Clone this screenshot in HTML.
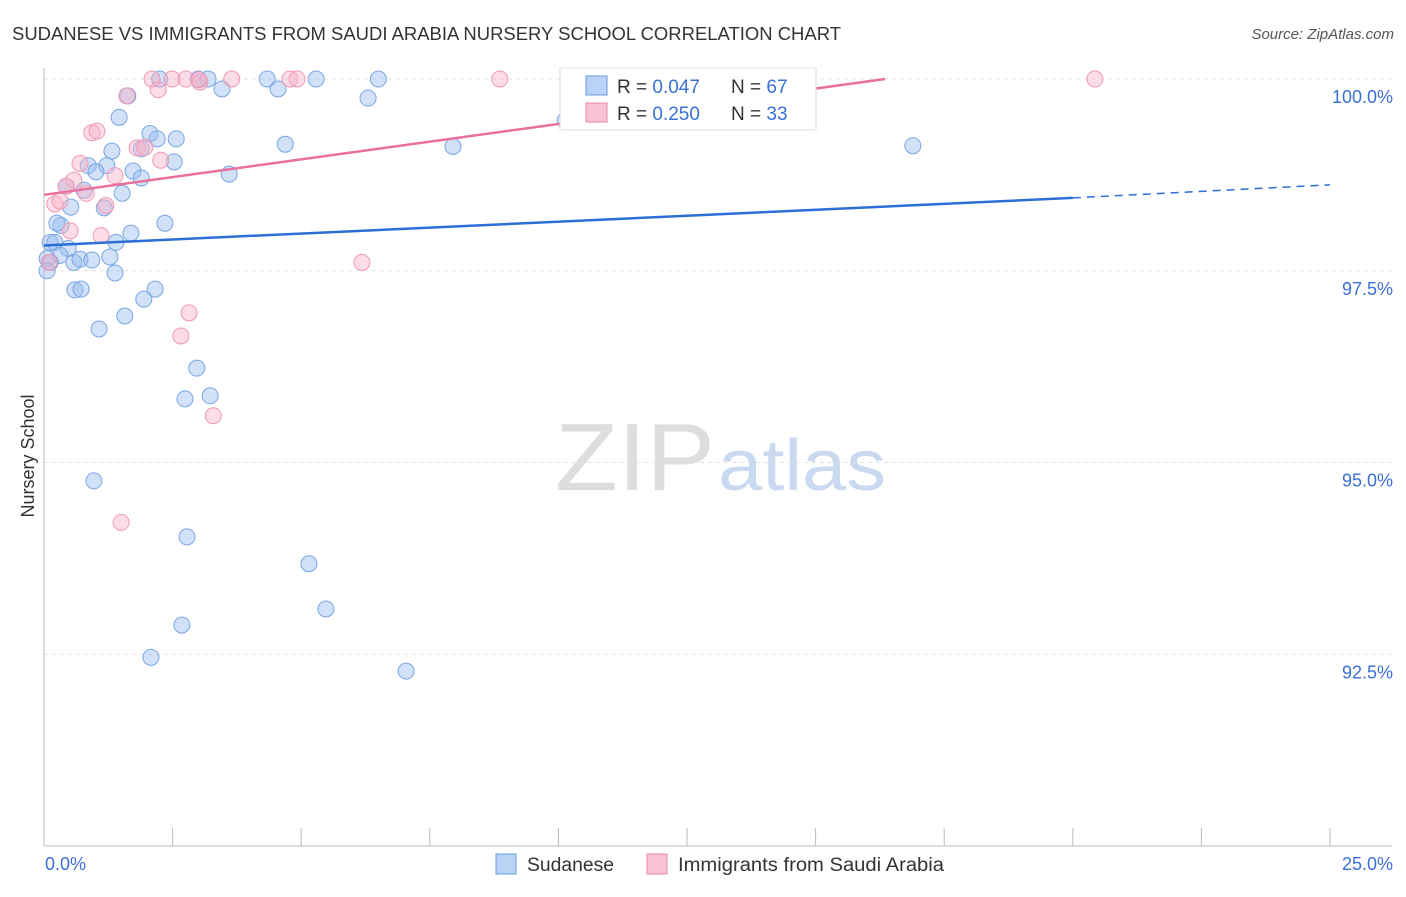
<!DOCTYPE html>
<html><head><meta charset="utf-8"><style>
body{margin:0;background:#fff;font-family:"Liberation Sans",sans-serif}
svg text{font-family:"Liberation Sans",sans-serif}
</style></head><body>
<svg id="c" width="1406" height="892" xmlns="http://www.w3.org/2000/svg">
<text x="12" y="40" font-size="18" fill="#333" textLength="829" lengthAdjust="spacingAndGlyphs">SUDANESE VS IMMIGRANTS FROM SAUDI ARABIA NURSERY SCHOOL CORRELATION CHART</text>
<text x="1394" y="39" font-size="15" fill="#555" font-style="italic" text-anchor="end">Source: ZipAtlas.com</text>
<text x="34" y="456" font-size="18" fill="#333" text-anchor="middle" transform="rotate(-90 34 456)">Nursery School</text>
<text x="555" y="490" font-size="96" fill="#ddd" font-family="Liberation Serif" textLength="160" lengthAdjust="spacingAndGlyphs">ZIP</text>
<text x="718" y="490" font-size="72" fill="#c9d9ef" textLength="168" lengthAdjust="spacingAndGlyphs">atlas</text>
<g id="grid"></g><g id="pts"></g><g id="lines"></g>
<g>
<rect x="560" y="68" width="256" height="62" fill="#fff" stroke="#ddd"/>
<rect x="586" y="76" width="21" height="19" fill="#b9d2f5" stroke="#6a9ee0"/>
<text x="617" y="93" font-size="19" fill="#333">R = <tspan fill="#3a70d6">0.047</tspan></text>
<text x="731" y="93" font-size="19" fill="#333">N = <tspan fill="#3a70d6">67</tspan></text>
<rect x="586" y="103" width="21" height="19" fill="#fac4d4" stroke="#ea88a8"/>
<text x="617" y="120" font-size="19" fill="#333">R = <tspan fill="#3a70d6">0.250</tspan></text>
<text x="731" y="120" font-size="19" fill="#333">N = <tspan fill="#3a70d6">33</tspan></text>
</g>
<g>
<rect x="496" y="854" width="20" height="20" fill="#b9d2f5" stroke="#6a9ee0"/>
<text x="527" y="871" font-size="19" fill="#333" textLength="87" lengthAdjust="spacingAndGlyphs">Sudanese</text>
<rect x="647" y="854" width="20" height="20" fill="#fac4d4" stroke="#ea88a8"/>
<text x="678" y="871" font-size="19" fill="#333" textLength="266" lengthAdjust="spacingAndGlyphs">Immigrants from Saudi Arabia</text>
</g>
</svg>
<script>
const yTicks=[100,97.5,95,92.5];
const yTickLabels=["100.0%","97.5%","95.0%","92.5%"];
const xTickLabels=["0.0%","25.0%"];
const blueX=[2.25,3.0,3.19,4.34,5.29,6.5,4.55,3.46,6.3,1.63,1.46,2.06,2.2,2.57,4.69,7.95,16.89,1.32,1.89,2.53,0.86,1.22,1.01,1.73,1.89,3.6,0.43,0.78,1.52,0.52,1.17,2.35,0.33,0.25,1.69,0.12,0.21,1.4,0.47,0.31,0.06,0.12,0.58,0.7,0.93,1.28,1.38,0.06,0.6,0.72,2.16,1.94,1.57,1.07,2.97,3.23,2.74,0.97,2.78,5.15,2.68,5.48,2.08,7.04,10.13];
const blueY=[100,100,100,100,100,100,99.87,99.87,99.75,99.78,99.5,99.29,99.22,99.22,99.15,99.12,99.13,99.06,99.09,98.92,98.87,98.87,98.79,98.8,98.71,98.76,98.6,98.55,98.51,98.33,98.32,98.12,98.09,98.12,97.99,97.87,97.87,97.87,97.79,97.7,97.66,97.61,97.61,97.65,97.64,97.68,97.47,97.5,97.25,97.26,97.26,97.13,96.91,96.74,96.23,95.87,95.83,94.76,94.03,93.68,92.88,93.09,92.46,92.28,99.46];
const pinkX=[2.1,2.49,2.76,3.03,3.65,4.78,4.92,8.86,20.43,2.22,1.61,0.93,1.03,0.7,1.81,1.96,2.27,1.38,0.58,0.43,0.82,0.21,0.31,1.2,0.51,1.11,0.1,6.18,2.82,2.66,3.29,1.5,3.01];
const pinkY=[100,100,100,99.96,100,100,100,100,100,99.86,99.78,99.3,99.32,98.9,99.1,99.11,98.94,98.74,98.68,98.6,98.51,98.37,98.41,98.35,98.02,97.96,97.61,97.61,96.95,96.65,95.61,94.22,99.99];
const X=v=>44+v*51.44, Y=v=>79+(100-v)*76.7;
const NS="http://www.w3.org/2000/svg";
function mk(t,a,p){const e=document.createElementNS(NS,t);for(const k in a)e.setAttribute(k,a[k]);p.appendChild(e);return e;}
const g=document.getElementById('grid');
yTicks.forEach((v,i)=>{
 const l=mk('line',{x1:44,x2:1392,y1:Y(v),y2:Y(v),stroke:'#e2e2e2','stroke-dasharray':'4,4'},g);
 
 
 const t=mk('text',{x:1393,y:Y(v)+24,'font-size':18,fill:'#3a70d6','text-anchor':'end'},g);t.textContent=yTickLabels[i];
 
 
});
mk('line',{x1:44,x2:44,y1:68,y2:846,stroke:'#bbb'},g);
mk('line',{x1:44,x2:1392,y1:846,y2:846,stroke:'#bbb'},g);
for(let i=0;i<=10;i++){const x=X(i*2.5);const tk=mk('line',{x1:x,x2:x,y1:828,y2:846,stroke:'#bbb'},g);
 
 }
[[0,'start',45],[25,'end',1393]].forEach((d,i)=>{const t=mk('text',{x:d[2],y:870,'font-size':18,fill:'#3a70d6','text-anchor':d[1]},g);t.textContent=xTickLabels[i];
 
 });
const p=document.getElementById('pts');
blueX.forEach((x,i)=>{const c=mk('circle',{cx:X(x),cy:Y(blueY[i]),r:8,fill:'rgba(150,188,240,0.45)',stroke:'#7aa6e4','stroke-width':1},p);
 
 });
pinkX.forEach((x,i)=>{const c=mk('circle',{cx:X(x),cy:Y(pinkY[i]),r:8,fill:'rgba(248,178,200,0.45)',stroke:'#ee9ab5','stroke-width':1},p);
 
 });
const L=document.getElementById('lines');
const bl=mk('line',{x1:X(0),y1:Y(97.83),x2:X(20),y2:Y(98.45),stroke:'#2b6fd6','stroke-width':2.5},L);


const bd=mk('line',{x1:X(20),y1:Y(98.45),x2:X(25),y2:Y(98.62),stroke:'#2b6fd6','stroke-width':1.5,'stroke-dasharray':'8,6'},L);


const pl=mk('line',{x1:X(0),y1:Y(98.49),x2:X(16.35),y2:Y(100),stroke:'#e8709a','stroke-width':2.5},L);


</script>
</body></html>
